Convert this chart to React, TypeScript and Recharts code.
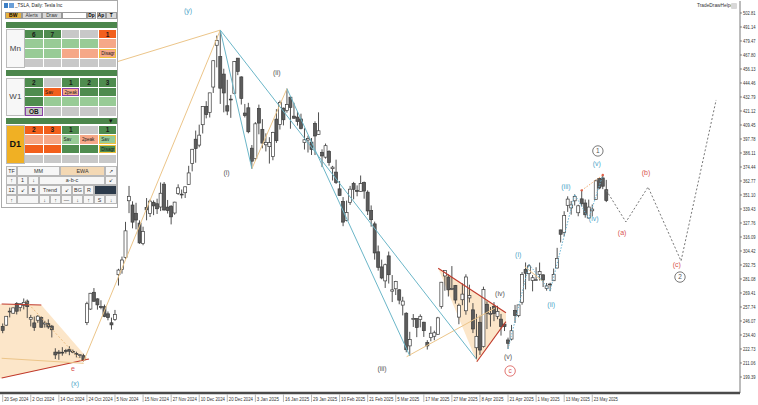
import React from 'react';
import {
  ComposedChart, Bar, Area, Line, XAxis, YAxis, ReferenceLine, ReferenceDot,
} from 'recharts';

const FONT = '"Liberation Sans", Arial, sans-serif';

// TSLA daily, 20 Sep 2024 .. 30 May 2025 (8 bars per row)
const opens = [
  241.5, 242.61, 254.08, 252.54, 260.6, 257.38, 259.04, 262.67,
  247.55, 244.48, 246.69, 249.0, 243.56, 243.82, 241.81, 220.13,
  220.13, 220.01, 221.4, 222.5, 220.71, 218.9, 217.31, 217.13,
  244.68, 256.01, 270.0, 264.51, 258.04, 257.99, 252.04, 244.56,
  247.34, 284.67, 288.89, 299.14, 346.3, 342.74, 335.85, 327.69,
  310.57, 340.73, 335.76, 345.0, 343.81, 341.09, 360.14, 341.0,
  341.8, 336.08, 352.38, 351.8, 353.0, 359.87, 377.42, 397.61,
  392.68, 409.7, 424.84, 420.0, 441.09, 475.9, 466.5, 451.88,
  425.51, 431.0, 435.9, 465.16, 449.52, 419.4, 423.79, 390.1,
  381.48, 423.2, 405.83, 392.95, 391.4, 383.21, 414.34, 409.9,
  423.49, 421.5, 432.64, 416.81, 416.06, 414.45, 394.8, 396.91,
  395.21, 410.78, 401.53, 386.68, 382.63, 387.51, 373.03, 370.19,
  356.21, 345.8, 329.94, 345.0, 360.62, 355.01, 354.0, 361.51,
  353.44, 338.14, 327.02, 303.71, 291.16, 279.5, 300.34, 270.93,
  272.92, 272.06, 259.32, 252.54, 225.31, 247.22, 248.13, 247.31,
  245.06, 228.16, 232.2, 233.35, 234.99, 258.08, 283.6, 282.66,
  272.48, 275.58, 249.31, 263.8, 254.6, 265.29, 255.38, 223.78,
  245.0, 224.69, 260.0, 251.84, 258.36, 249.91, 247.61, 243.47,
  230.26, 230.96, 254.86, 250.5, 261.69, 288.98, 285.5, 279.9,
  280.01, 284.9, 284.57, 273.1, 276.88, 279.63, 290.21, 321.99,
  320.0, 342.5, 340.34, 346.24, 336.3, 347.87, 344.43, 331.9,
  337.92, 347.35, 364.84, 365.29, 355.52,
];
const highs = [
  243.99, 250.0, 257.19, 257.05, 261.75, 260.7, 264.86, 263.98,
  251.16, 249.79, 250.96, 249.83, 246.21, 247.43, 242.79, 223.34,
  221.91, 224.26, 222.82, 224.97, 222.28, 220.48, 218.22, 218.72,
  262.12, 269.49, 273.54, 264.98, 263.35, 259.75, 254.0, 248.9,
  255.28, 289.59, 299.75, 328.71, 358.64, 345.84, 344.6, 329.98,
  324.68, 348.55, 347.38, 346.6, 347.99, 361.53, 361.93, 346.96,
  342.55, 345.45, 360.0, 355.69, 358.1, 375.43, 389.49, 404.8,
  409.73, 424.88, 429.3, 436.3, 463.19, 483.99, 488.54, 456.36,
  447.08, 434.51, 462.78, 465.33, 450.0, 427.0, 427.93, 392.73,
  411.88, 426.43, 414.33, 402.5, 399.28, 403.79, 422.64, 429.8,
  424.0, 439.74, 433.2, 428.0, 420.73, 418.88, 406.69, 400.59,
  398.59, 412.5, 419.99, 389.17, 394.0, 388.39, 375.4, 380.55,
  362.7, 349.37, 346.4, 358.69, 362.0, 359.1, 367.34, 362.3,
  354.98, 342.4, 328.89, 309.0, 297.23, 293.88, 303.94, 284.35,
  279.55, 272.65, 266.25, 253.37, 237.06, 251.84, 248.29, 251.58,
  245.4, 230.1, 241.66, 238.0, 249.52, 278.64, 288.2, 284.9,
  291.85, 276.1, 260.56, 277.45, 284.99, 276.3, 261.0, 252.0,
  250.44, 274.69, 262.49, 257.74, 261.8, 258.75, 251.97, 244.34,
  232.21, 242.79, 259.45, 259.54, 286.85, 294.86, 293.32, 284.45,
  290.87, 294.78, 284.85, 277.73, 277.92, 289.8, 307.04, 322.21,
  337.59, 350.0, 346.14, 351.62, 343.0, 354.99, 347.35, 347.27,
  343.18, 363.79, 365.0, 367.71, 363.68,
];
const lows = [
  235.92, 241.92, 249.05, 252.28, 251.53, 254.12, 255.77, 248.53,
  241.5, 237.81, 244.58, 240.7, 240.56, 239.51, 232.34, 214.38,
  213.74, 217.12, 218.93, 217.55, 219.23, 215.73, 215.26, 212.11,
  242.65, 255.32, 262.24, 255.51, 255.82, 249.25, 246.63, 238.88,
  246.21, 275.62, 285.52, 297.66, 336.0, 323.31, 322.5, 310.37,
  309.22, 330.01, 332.75, 334.3, 335.28, 337.7, 338.2, 335.66,
  326.59, 334.65, 351.15, 348.2, 348.6, 359.5, 370.8, 378.01,
  390.85, 402.38, 415.0, 415.71, 436.15, 457.51, 427.01, 420.02,
  417.64, 415.41, 435.14, 451.02, 426.5, 415.75, 402.54, 373.04,
  379.45, 401.7, 390.0, 387.4, 377.29, 380.07, 394.54, 405.66,
  409.13, 419.75, 406.31, 414.59, 408.95, 405.78, 389.0, 386.5,
  384.48, 384.41, 401.34, 374.36, 381.4, 375.53, 363.18, 360.34,
  350.51, 325.1, 329.12, 342.85, 347.5, 350.02, 353.67, 348.0,
  334.42, 324.7, 297.25, 288.04, 280.88, 273.6, 277.3, 261.84,
  267.71, 260.02, 250.73, 220.0, 217.02, 241.1, 232.6, 240.73,
  232.8, 222.28, 229.2, 230.05, 234.55, 256.33, 271.28, 266.51,
  271.82, 260.57, 243.36, 259.25, 251.27, 261.51, 236.0, 214.25,
  217.8, 223.88, 239.33, 241.36, 245.93, 247.54, 233.89, 237.68,
  222.79, 229.85, 244.43, 249.2, 259.63, 272.42, 279.47, 270.78,
  279.81, 279.81, 274.4, 271.35, 271.0, 279.41, 290.0, 311.5,
  316.8, 337.0, 334.72, 342.33, 333.37, 341.63, 332.2, 331.39,
  333.21, 347.32, 355.91, 356.0, 345.2,
];
const closes = [
  238.25, 250.0, 254.27, 257.02, 254.22, 260.46, 261.63, 258.02,
  249.02, 240.66, 250.08, 240.83, 244.5, 241.05, 238.77, 217.8,
  219.16, 219.57, 221.33, 220.89, 220.7, 218.85, 217.97, 213.65,
  260.48, 269.19, 262.51, 259.52, 257.55, 249.85, 248.98, 242.84,
  251.44, 288.53, 296.91, 321.22, 350.0, 328.49, 330.24, 311.18,
  320.72, 338.74, 346.0, 342.03, 339.64, 352.56, 338.59, 338.23,
  332.89, 345.16, 357.09, 351.42, 357.93, 369.49, 389.22, 389.79,
  400.99, 424.77, 418.1, 436.23, 463.02, 479.86, 440.13, 436.17,
  421.06, 430.6, 462.28, 454.13, 431.66, 417.41, 403.84, 379.28,
  410.44, 411.05, 394.36, 394.94, 394.74, 403.31, 396.36, 428.22,
  413.82, 426.5, 424.07, 415.11, 412.38, 406.58, 397.15, 398.09,
  389.1, 400.28, 404.6, 383.68, 392.21, 378.17, 374.32, 361.62,
  350.73, 328.5, 336.51, 355.94, 355.84, 354.11, 360.56, 354.4,
  337.8, 330.53, 302.8, 290.8, 281.95, 292.98, 284.65, 272.04,
  279.1, 263.45, 262.67, 222.15, 230.58, 248.09, 240.68, 249.98,
  238.01, 225.31, 235.86, 236.26, 248.71, 278.39, 288.14, 272.06,
  273.13, 263.55, 259.16, 268.46, 282.76, 267.28, 239.43, 233.29,
  221.86, 272.2, 252.4, 252.31, 252.35, 254.11, 241.55, 241.37,
  227.5, 237.97, 250.74, 259.51, 284.95, 285.88, 292.03, 282.16,
  280.52, 287.21, 280.26, 275.35, 276.22, 284.82, 298.26, 318.38,
  334.07, 347.68, 342.82, 349.98, 342.09, 343.82, 334.62, 341.04,
  339.34, 362.89, 356.9, 358.43, 346.46,
];

const xTickLabels = [
  '20 Sep 2024', '2 Oct 2024', '14 Oct 2024', '24 Oct 2024', '5 Nov 2024', '15 Nov 2024',
  '27 Nov 2024', '10 Dec 2024', '20 Dec 2024', '3 Jan 2025', '16 Jan 2025', '29 Jan 2025',
  '10 Feb 2025', '21 Feb 2025', '5 Mar 2025', '17 Mar 2025', '27 Mar 2025', '8 Apr 2025',
  '21 Apr 2025', '1 May 2025', '13 May 2025', '23 May 2025',
];
const xTickIdx = xTickLabels.map((_, k) => k * 8);

const yTickLabels = [
  '502.81', '491.14', '479.47', '467.80', '456.13', '444.46', '432.79', '421.12', '409.45',
  '397.78', '386.11', '374.44', '362.77', '351.10', '339.43', '327.76', '316.09', '304.42',
  '292.75', '281.08', '269.41', '257.74', '246.07', '234.40', '222.73', '211.06', '199.39',
];
const yTicks = yTickLabels.map(Number);

// drawing objects, [bar index, price]
const tanSegs = [
  [27.7, 457.8, 62, 488.54],
  [23, 212.11, 62, 488.54],
  [71, 373.04, 81, 439.74],
  [115.1, 216.3, 140.3, 256.9],
  [-0.3, 215.0, 23, 210.8],
  [148.8, 291.3, 154, 278.8],
];
const tanDotted = [[6.6, 262.7, 23, 210.8]];
const blueSegs = [
  [62, 488.54, 71, 373.04],
  [62, 488.54, 135, 214.25],
  [81, 439.74, 116, 217.02],
];
const redSegs = [
  [-0.3, 260.2, 11, 259.4],
  [-0.3, 198.5, 24.6, 214.4],
  [124.1, 290.0, 143.4, 253.0],
  [135.1, 212.1, 143.4, 245.5],
];
const orangeDotted = [[165, 354.99, 171, 367.71]];
const starPts = [[165, 354.99], [171, 367.71]];

const subWave = [
  { i: 144, p: 222.79 }, { i: 150, p: 293.32 }, { i: 156, p: 271.0 },
  { i: 163, p: 351.62 }, { i: 167, p: 331.39 }, { i: 171, p: 367.71 },
];
const projection = [
  { i: 172, p: 355.0 }, { i: 177.6, p: 328.6 }, { i: 183.9, p: 357.8 },
  { i: 193.3, p: 296.1 }, { i: 203.3, p: 430.3 },
];
const leftTri = [
  { i: -0.8, v: [198.1, 260.3] }, { i: 11, v: [205.6, 259.4] }, { i: 24.4, v: [214.2, 214.2] },
];
const midTri = [
  { i: 124.1, v: [290.0, 290.0] }, { i: 135.1, v: [212.1, 268.9] }, { i: 143.4, v: [245.5, 253.0] },
];

const GRAYT = '#555555';
const BLUET = '#4ea6c9';
const REDT = '#d9534f';
const waveLabels = [
  { i: 52.8, p: 504.5, t: '(y)', c: BLUET },
  { i: 63.8, p: 369.7, t: '(i)', c: GRAYT },
  { i: 78.1, p: 452.8, t: '(ii)', c: GRAYT },
  { i: 108.1, p: 206.0, t: '(iii)', c: GRAYT },
  { i: 141.7, p: 268.6, t: '(iv)', c: GRAYT },
  { i: 144.0, p: 216.0, t: '(v)', c: GRAYT },
  { i: 20.0, p: 206.0, t: 'e', c: REDT },
  { i: 20.6, p: 193.5, t: '(x)', c: BLUET },
  { i: 144.6, p: 204.4, t: 'c', c: REDT, ring: true },
  { i: 146.9, p: 301.1, t: '(i)', c: BLUET },
  { i: 156.3, p: 259.4, t: '(ii)', c: BLUET },
  { i: 160.5, p: 358.0, t: '(iii)', c: BLUET },
  { i: 168.4, p: 331.1, t: '(iv)', c: BLUET },
  { i: 169.3, p: 376.9, t: '(v)', c: BLUET },
  { i: 169.6, p: 387.8, t: '1', c: GRAYT, ring: true },
  { i: 176.5, p: 319.4, t: '(a)', c: REDT },
  { i: 183.3, p: 369.7, t: '(b)', c: REDT },
  { i: 192.1, p: 292.7, t: '(c)', c: REDT },
  { i: 193.0, p: 282.7, t: '2', c: GRAYT, ring: true },
];

const candles = opens.map((o, i) => ({
  i, o, h: highs[i], l: lows[i], c: closes[i], range: [lows[i], highs[i]],
}));

const Candle = (props: any) => {
  const { x, y, width, height, payload } = props;
  if (!payload) return null;
  const { o, h, l, c } = payload;
  const top = Math.min(y, y + height);
  const span = Math.abs(height);
  const k = h === l ? 0 : span / (h - l);
  const cx = x + width / 2;
  const yO = top + (h - o) * k;
  const yC = top + (h - c) * k;
  const bTop = Math.min(yO, yC);
  const bH = Math.max(Math.abs(yO - yC), 0.8);
  const up = c >= o;
  return (
    <g>
      <line x1={cx} x2={cx} y1={top} y2={top + span} stroke="#3c3c3c" strokeWidth={0.9} />
      <rect x={cx - 1.5} y={bTop} width={3} height={bH}
        fill={up ? '#ffffff' : '#5c5c5c'} stroke="#3c3c3c" strokeWidth={0.7} />
    </g>
  );
};

const XTick = (props: any) => {
  const { x, y, payload } = props;
  const k = xTickIdx.indexOf(payload.value);
  const label = xTickLabels[k] || '';
  return (
    <g>
      <line x1={x} x2={x} y1={y + 1.5} y2={y + 9} stroke="#888" strokeWidth={0.6} />
      <text x={x + 1.5} y={y + 8} fontSize={5} fill="#333" fontFamily={FONT}
        textLength={label.length * 2.2} lengthAdjust="spacingAndGlyphs">{label}</text>
    </g>
  );
};

const YTick = (props: any) => {
  const { x, y, payload } = props;
  const k = yTicks.indexOf(payload.value);
  return (
    <g>
      <line x1={x} x2={x + 2} y1={y} y2={y} stroke="#555" strokeWidth={0.7} />
      <text x={x + 3} y={y + 1.8} fontSize={5} fill="#333" fontFamily={FONT}
        textLength={12.5} lengthAdjust="spacingAndGlyphs">{yTickLabels[k]}</text>
    </g>
  );
};

const WaveLabel = (props: any) => {
  const { cx, cy, lab } = props;
  if (cx == null || cy == null) return null;
  return (
    <g>
      {lab.ring && <circle cx={cx} cy={cy} r={5.2} fill="#fff" stroke={lab.c} strokeWidth={0.8} />}
      <text x={cx} y={cy + 2.4} textAnchor="middle" fontSize={lab.ring ? 6.5 : 7} fill={lab.c} fontFamily={FONT}>{lab.t}</text>
    </g>
  );
};

const Star = (props: any) => {
  const { cx, cy } = props;
  if (cx == null) return null;
  return <circle cx={cx} cy={cy} r={1.2} fill="#e0604a" />;
};

// ---------- left control panel ----------
const DG = '#4f8c4f';
const LG = '#98cb96';
const SA = '#f6a888';
const RO = '#f25f1c';
const GY = '#c8c8c8';
const YB = '#f0c03a';
const PB = '#8a43a8';

type PCell = { t?: string; bg: string; b?: string };
const mnCells: PCell[][] = [
  [{ t: '6', bg: DG }, { t: '7', bg: DG }, { bg: GY }, { bg: GY }, { t: '1', bg: RO }],
  [{ bg: LG }, { bg: LG }, { bg: LG }, { bg: LG }, { bg: SA }],
  [{ bg: LG }, { bg: LG }, { bg: SA }, { bg: SA }, { t: 'Disagr', bg: SA, b: YB }],
  [{ bg: GY }, { bg: GY }, { bg: GY }, { bg: GY }, { bg: GY }],
];
const w1Cells: PCell[][] = [
  [{ t: '2', bg: DG }, { bg: GY }, { t: '1', bg: DG }, { t: '2', bg: DG }, { t: '3', bg: DG }],
  [{ bg: DG }, { t: 'Sav', bg: RO }, { t: '2peak', bg: SA, b: PB }, { bg: DG }, { bg: DG }],
  [{ bg: DG }, { bg: LG }, { bg: LG }, { bg: LG }, { bg: LG }],
  [{ t: 'OB', bg: GY, b: PB }, { bg: GY }, { bg: GY }, { bg: GY }, { bg: GY }],
];
const d1Cells: PCell[][] = [
  [{ t: '2', bg: RO }, { t: '3', bg: RO }, { t: '1', bg: DG }, { bg: GY }, { t: '1', bg: DG }],
  [{ bg: SA }, { bg: SA }, { t: 'Sav', bg: LG }, { t: '2peak', bg: SA }, { t: 'Sav', bg: LG, b: YB }],
  [{ bg: RO }, { bg: RO }, { bg: DG }, { bg: DG }, { t: 'Disagr', bg: DG, b: YB }],
  [{ bg: GY }, { bg: GY }, { bg: GY }, { bg: GY }, { bg: GY }],
];

type Ctl = { t: string; x: number; w: number; bg?: string };
const ctlRows: Ctl[][] = [
  [{ t: 'TF', x: 4, w: 11 }, { t: 'MM', x: 15, w: 43 }, { t: 'EWA', x: 58, w: 45, bg: '#f3d8b4' }, { t: '↗', x: 103, w: 12 }],
  [{ t: '↑', x: 4, w: 11 }, { t: '1', x: 15, w: 11 }, { t: '↓', x: 26, w: 11 }, { t: 'a-b-c', x: 37, w: 66 }, { t: '↙', x: 103, w: 12 }],
  [{ t: '12', x: 4, w: 11 }, { t: '↙', x: 15, w: 11 }, { t: 'B', x: 26, w: 11 }, { t: 'Trend', x: 37, w: 22 },
    { t: '↙', x: 59, w: 11 }, { t: 'BG', x: 70, w: 12 }, { t: 'R', x: 82, w: 10 }, { t: '', x: 92, w: 23, bg: '#2c3a4a' }],
  [{ t: '↑', x: 4, w: 11 }, { t: '', x: 15, w: 22 }, { t: '↓', x: 37, w: 11 }, { t: '↑', x: 48, w: 11 },
    { t: '—', x: 59, w: 11 }, { t: '↓', x: 70, w: 11 }, { t: '↑', x: 81, w: 11 }, { t: 'S', x: 92, w: 11 }, { t: '↓', x: 103, w: 12 }],
];

const abs = (l: number, t: number, w: number, h: number): React.CSSProperties => ({
  position: 'absolute', left: l, top: t, width: w, height: h, boxSizing: 'border-box',
});

const Block = ({ top, label, labelBg, rows }: { top: number; label: string; labelBg: string; rows: PCell[][] }) => {
  const cw = 18.4;
  const rh = 9.6;
  return (
    <>
      <div style={{ ...abs(4, top, 18.7, rh * 4), background: labelBg, border: '0.5px solid #bbb',
        display: 'flex', alignItems: 'center', justifyContent: 'center',
        fontSize: label === 'D1' ? 9 : 8, fontWeight: label === 'D1' ? 700 : 400, color: label === 'D1' ? '#111' : '#444' }}>
        {label}
      </div>
      {rows.map((row, r) => row.map((cell, c) => (
        <div key={`${r}-${c}`} style={{
          ...abs(22.7 + c * cw + 0.5, top + r * rh + 0.5, cw - 1, rh - 1),
          background: cell.bg, border: cell.b ? `1px solid ${cell.b}` : 'none',
          display: 'flex', alignItems: 'center', justifyContent: cell.t && cell.t.length > 2 ? 'flex-start' : 'center',
          paddingLeft: cell.t && cell.t.length > 2 ? 1.5 : 0,
          fontSize: cell.t && cell.t.length > 2 ? 4.6 : 6.5, fontWeight: cell.t && cell.t.length > 2 ? 400 : 700,
          color: '#1a1a1a', overflow: 'hidden', whiteSpace: 'nowrap',
        }}>{cell.t}</div>
      )))}
    </>
  );
};

const Panel = () => (
  <div style={{ ...abs(1, 0, 117, 208), background: '#fff', border: '0.5px solid #aaa', fontFamily: FONT, left: 1 }}>
    <div style={{ position: 'absolute', left: 0, top: 0, width: 115, height: 208 }}>
      <div style={{ ...abs(1.5, 1.5, 4.5, 5), background: '#3d7fc4' }} />
      <div style={{ ...abs(7, 1.5, 4.5, 5), background: '#6a9fd8' }} />
      <div style={{ position: 'absolute', left: 13, top: 1.5, fontSize: 4.6, color: '#222', whiteSpace: 'nowrap' }}>
        _TSLA, Daily:  Tesla Inc
      </div>
      <div style={{ ...abs(3, 10.5, 16.5, 7.5), background: '#e7b23f', border: '0.5px solid #999', fontSize: 5, fontWeight: 700, display: 'flex', alignItems: 'center', justifyContent: 'center' }}>BW</div>
      <div style={{ ...abs(20, 10.5, 19.5, 7.5), background: '#d9d9d9', border: '0.5px solid #999', fontSize: 4.8, display: 'flex', alignItems: 'center', justifyContent: 'center', color: '#333' }}>Alerts</div>
      <div style={{ ...abs(40, 10.5, 19.5, 7.5), background: '#d9d9d9', border: '0.5px solid #999', fontSize: 4.8, display: 'flex', alignItems: 'center', justifyContent: 'center', color: '#333' }}>Draw</div>
      <div style={{ ...abs(60, 10.5, 24.5, 7.5), background: '#fff', border: '0.5px solid #999' }} />
      <div style={{ ...abs(85, 10.5, 9, 7.5), background: '#d9d9d9', border: '0.5px solid #999', fontSize: 4.8, fontWeight: 700, display: 'flex', alignItems: 'center', justifyContent: 'center' }}>Dp</div>
      <div style={{ ...abs(94.5, 10.5, 9, 7.5), background: '#d9d9d9', border: '0.5px solid #999', fontSize: 4.8, fontWeight: 700, display: 'flex', alignItems: 'center', justifyContent: 'center' }}>Ap</div>
      <div style={{ ...abs(104, 10.5, 10.5, 7.5), background: '#d9d9d9', border: '0.5px solid #999', fontSize: 4.8, fontWeight: 700, display: 'flex', alignItems: 'center', justifyContent: 'center' }}>T</div>
      <div style={{ ...abs(4, 20.7, 110.7, 6), background: '#4c864c' }} />
      <Block top={28.3} label="Mn" labelBg="#f7f7f7" rows={mnCells} />
      <div style={{ ...abs(4, 69, 110.7, 6), background: '#4c864c' }} />
      <Block top={76.7} label="W1" labelBg="#f7f7f7" rows={w1Cells} />
      <div style={{ ...abs(4, 116.7, 110.7, 6), background: '#4c864c', fontSize: 6, color: '#111', textAlign: 'right', lineHeight: '6px', paddingRight: 3 }}>▼</div>
      <Block top={124.2} label="D1" labelBg="#f0b024" rows={d1Cells} />
      {ctlRows.map((row, r) => row.map((cell, c) => (
        <div key={`c${r}-${c}`} style={{
          ...abs(cell.x, 165 + r * 9.6, cell.w, 9.6), background: cell.bg || '#f6f6f6', border: '0.5px solid #b8b8b8',
          display: 'flex', alignItems: 'center', justifyContent: 'center', fontSize: 5.4, color: '#333',
        }}>{cell.t}</div>
      )))}
    </div>
  </div>
);

const seg = (s: number[]) => [{ x: s[0], y: s[1] }, { x: s[2], y: s[3] }];

export default function App() {
  return (
    <div style={{ position: 'absolute', left: 0, top: 0, width: 758, height: 405, background: '#fff', fontFamily: FONT }}>
      <ComposedChart width={758} height={405} data={candles} margin={{ top: 1, right: 0, bottom: 0, left: 0 }}>
        <XAxis type="number" dataKey="i" domain={[-0.77, 210.1]} ticks={xTickIdx} tick={<XTick />}
          tickLine={false} tickSize={0} tickMargin={0} height={12} interval={0}
          axisLine={{ stroke: '#4a4a4a', strokeWidth: 2.4 }} allowDataOverflow />
        <YAxis orientation="right" domain={[186.05, 512.81]} ticks={yTicks} tick={<YTick />}
          tickLine={false} tickSize={0} tickMargin={0} width={18} interval={0}
          axisLine={{ stroke: '#555', strokeWidth: 0.8 }} allowDataOverflow />
        <Area data={leftTri} dataKey="v" type="linear" stroke="none" fill="#fbdcb2" fillOpacity={0.7} isAnimationActive={false} />
        <Area data={midTri} dataKey="v" type="linear" stroke="none" fill="#fbdcb2" fillOpacity={0.7} isAnimationActive={false} />
        {redSegs.map((s, k) => (
          <ReferenceLine key={`r${k}`} segment={seg(s)} stroke="#c0392b" strokeWidth={1.1} ifOverflow="visible" />
        ))}
        {tanSegs.map((s, k) => (
          <ReferenceLine key={`t${k}`} segment={seg(s)} stroke="#ecc589" strokeWidth={1} ifOverflow="visible" />
        ))}
        {tanDotted.map((s, k) => (
          <ReferenceLine key={`td${k}`} segment={seg(s)} stroke="#e8b877" strokeWidth={0.9} strokeDasharray="2 2" ifOverflow="visible" />
        ))}
        {blueSegs.map((s, k) => (
          <ReferenceLine key={`b${k}`} segment={seg(s)} stroke="#6bb6c8" strokeWidth={1} ifOverflow="visible" />
        ))}
        <Bar dataKey="range" barSize={3} shape={<Candle />} isAnimationActive={false} />
        <Line data={subWave} dataKey="p" type="linear" stroke="#6bb6d6" strokeWidth={1} strokeDasharray="1.5 1.5"
          dot={false} isAnimationActive={false} />
        {orangeDotted.map((s, k) => (
          <ReferenceLine key={`o${k}`} segment={seg(s)} stroke="#f0a060" strokeWidth={0.9} strokeDasharray="1.5 1.5" ifOverflow="visible" />
        ))}
        {starPts.map((s, k) => (
          <ReferenceDot key={`s${k}`} x={s[0]} y={s[1]} r={1} ifOverflow="visible" shape={<Star />} />
        ))}
        <Line data={projection} dataKey="p" type="linear" stroke="#777" strokeWidth={1} strokeDasharray="2 2"
          dot={false} isAnimationActive={false} />
        {waveLabels.map((lab, k) => (
          <ReferenceDot key={`l${k}`} x={lab.i} y={lab.p} r={1} ifOverflow="visible"
            shape={(p: any) => <WaveLabel {...p} lab={lab} />} />
        ))}
      </ComposedChart>
      <div style={{ position: 'absolute', left: 697, top: 3, fontSize: 4.8, color: '#333', fontFamily: FONT, whiteSpace: 'nowrap' }}>
        TradeDrawHelper
      </div>
      <div style={{ ...abs(731, 2.5, 6, 6), background: '#d8d8d8', borderRadius: 1 }} />
      <Panel />
    </div>
  );
}
